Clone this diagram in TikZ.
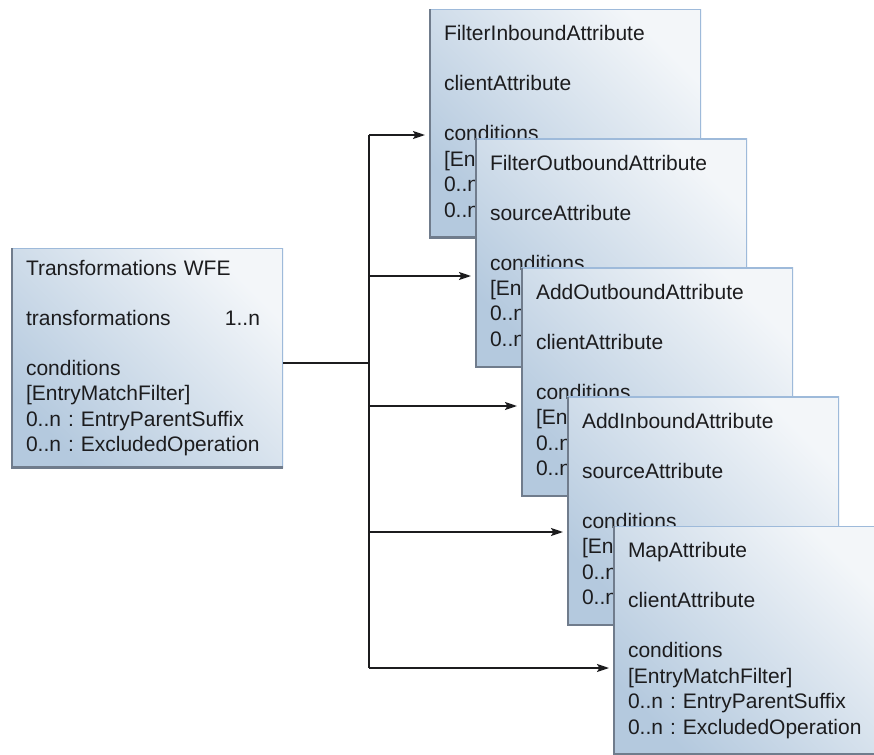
\documentclass[tikz,border=0pt]{standalone}
\usepackage{fontspec}
\setmainfont{Liberation Sans}
\usetikzlibrary{positioning,arrows.meta}
\frenchspacing

\definecolor{ink}{RGB}{28,28,30}
\definecolor{boxlight}{RGB}{243,246,249}
\definecolor{boxdark}{RGB}{180,201,222}
\definecolor{boxedge}{RGB}{158,186,218}
\definecolor{boxrim}{RGB}{112,124,140}

\begin{document}
\begin{tikzpicture}[
  x=0.5pt, y=-0.5pt,
  cls/.style={rectangle, anchor=north west, outer sep=0pt,
              text width=121pt, inner xsep=7.5pt, inner ysep=0pt,
              minimum width=136pt, minimum height=114.5pt,
              align=left, text=ink, font=\fontsize{10.5}{12.7}\selectfont,
              top color=boxlight, bottom color=boxdark, shading angle=-45,
              path picture={
                \draw[boxedge, line width=1.4pt]
                  (path picture bounding box.north west)
                  -- (path picture bounding box.north east)
                  -- (path picture bounding box.south east);
                \draw[boxrim, line width=1.6pt]
                  (path picture bounding box.north west)
                  -- (path picture bounding box.south west)
                  -- (path picture bounding box.south east);}},
  conn/.style={draw=ink, line width=0.8pt},
  arr/.style={conn, -{Stealth[length=6pt, width=4pt, inset=1.2pt]},
              shorten >=2pt}
]
\useasboundingbox (0,0) rectangle (874,755);

\node[cls, minimum height=110pt] (wfe) at (11,248)
  {Transformations WFE\\[12.3pt]
   \makebox[117pt]{transformations\hfill 1..n}\\[12.3pt]
   conditions\\{[EntryMatchFilter]}\\
   0..n : EntryParentSuffix\\0..n : ExcludedOperation};

\node[cls] (fin) at (429,9)
  {FilterInboundAttribute\\[12.3pt]clientAttribute\\[12.3pt]
   conditions\\{[EntryMatchFilter]}\\
   0..n : EntryParentSuffix\\0..n : ExcludedOperation};
\node[cls] (fout) at ([shift={(46,129.25)}]fin.north west)
  {FilterOutboundAttribute\\[12.3pt]sourceAttribute\\[12.3pt]
   conditions\\{[EntryMatchFilter]}\\
   0..n : EntryParentSuffix\\0..n : ExcludedOperation};
\node[cls] (aout) at ([shift={(46,129.25)}]fout.north west)
  {AddOutboundAttribute\\[12.3pt]clientAttribute\\[12.3pt]
   conditions\\{[EntryMatchFilter]}\\
   0..n : EntryParentSuffix\\0..n : ExcludedOperation};
\node[cls] (ain) at ([shift={(46,129.25)}]aout.north west)
  {AddInboundAttribute\\[12.3pt]sourceAttribute\\[12.3pt]
   conditions\\{[EntryMatchFilter]}\\
   0..n : EntryParentSuffix\\0..n : ExcludedOperation};
\node[cls] (map) at ([shift={(46,129.25)}]ain.north west)
  {MapAttribute\\[12.3pt]clientAttribute\\[12.3pt]
   conditions\\{[EntryMatchFilter]}\\
   0..n : EntryParentSuffix\\0..n : ExcludedOperation};

\coordinate (split) at (369,363);
\coordinate (t1)    at (369,135);
\coordinate (t2)    at (369,276);
\coordinate (t3)    at (369,406);
\coordinate (t4)    at (369,532);
\coordinate (t5)    at (369,668);

\draw[conn] (split -| wfe.east) -- (split);
\draw[conn] (t1) -- (t5);
\draw[arr] (t1) -- (t1 -| fin.west);
\draw[arr] (t2) -- (t2 -| fout.west);
\draw[arr] (t3) -- (t3 -| aout.west);
\draw[arr] (t4) -- (t4 -| ain.west);
\draw[arr] (t5) -- (t5 -| map.west);

\end{tikzpicture}
\end{document}
